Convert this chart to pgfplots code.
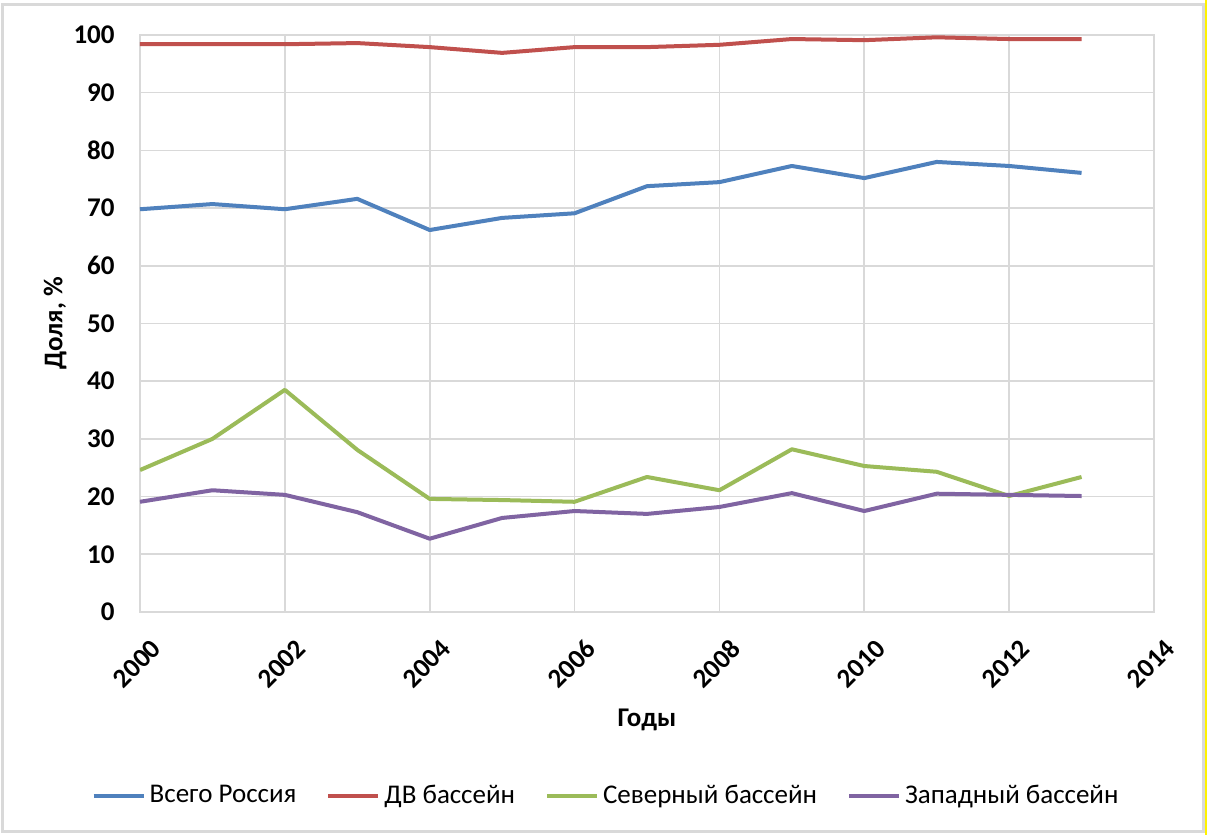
\documentclass[border=0pt]{standalone}
\usepackage{fontspec}
\setmainfont{Carlito}
\usepackage{pgfplots}
\pgfplotsset{compat=1.18}
\definecolor{cblue}{RGB}{79,129,189}
\definecolor{cred}{RGB}{192,80,77}
\definecolor{cgreen}{RGB}{155,187,89}
\definecolor{cpurple}{RGB}{128,100,162}
\definecolor{gridgray}{RGB}{217,217,217}
\begin{document}
\fontsize{13.5}{16}\selectfont
\begin{tikzpicture}
\useasboundingbox (-70pt,-111.5pt) rectangle (533.5pt,306pt);
\fill[white] (-70pt,-111.5pt) rectangle (533.5pt,306pt);
\draw[gridgray, line width=1.5pt] (-68.5pt,-110pt) rectangle (531.5pt,303.5pt);
\draw[yellow, line width=1pt] (533pt,-111.5pt) -- (533pt,306pt);
\begin{axis}[
    scale only axis,
    width=507pt, height=288.5pt,
    xmin=2000, xmax=2014,
    ymin=0, ymax=100,
    xtick={2000,2002,...,2014},
    ytick={0,10,...,100},
    grid=major,
    grid style={gridgray, line width=0.8pt},
    axis line style={gridgray, line width=1pt},
    major tick length=0pt,
    tick style={draw=none},
    /pgf/number format/assume math mode=true,
    xticklabel={\pgfmathprintnumber[1000 sep={}]{\tick}},
    ticklabel style={font=\bfseries},
    xticklabel style={rotate=45, anchor=north east, xshift=-1pt, yshift=-8pt},
    yticklabel style={anchor=east, xshift=-8pt},
    xlabel={\bfseries Годы},
    ylabel={\bfseries Доля, \%},
    xlabel style={at={(axis description cs:0.5,-0.187)}, anchor=center},
    ylabel style={at={(axis description cs:-0.0838,0.5)}, anchor=center, rotate=0},
    legend columns=4,
    legend style={at={(axis description cs:0.4606,-0.319)}, anchor=center,
        draw=none, fill=none, font=\fontsize{13.5}{16}\selectfont,
        /tikz/every even column/.append style={column sep=13pt}},
    legend image code/.code={\draw[#1, line width=2pt] (0pt,0pt) -- (25pt,0pt);},
    every axis plot/.append style={line width=2pt, line join=round},
]
\addplot[cblue] coordinates {
    (2000,69.8) (2001,70.7) (2002,69.8) (2003,71.6) (2004,66.2) (2005,68.3) (2006,69.1)
    (2007,73.8) (2008,74.5) (2009,77.3) (2010,75.2) (2011,78.0) (2012,77.3) (2013,76.1)
};
\addlegendentry{Всего Россия}
\addplot[cred] coordinates {
    (2000,98.4) (2001,98.4) (2002,98.4) (2003,98.6) (2004,97.9) (2005,96.9) (2006,97.9)
    (2007,97.9) (2008,98.3) (2009,99.3) (2010,99.1) (2011,99.6) (2012,99.3) (2013,99.3)
};
\addlegendentry{ДВ бассейн}
\addplot[cgreen] coordinates {
    (2000,24.6) (2001,30.0) (2002,38.5) (2003,28.1) (2004,19.6) (2005,19.4) (2006,19.1)
    (2007,23.4) (2008,21.1) (2009,28.2) (2010,25.3) (2011,24.3) (2012,20.1) (2013,23.4)
};
\addlegendentry{Северный бассейн}
\addplot[cpurple] coordinates {
    (2000,19.1) (2001,21.1) (2002,20.3) (2003,17.3) (2004,12.7) (2005,16.3) (2006,17.5)
    (2007,17.0) (2008,18.2) (2009,20.6) (2010,17.5) (2011,20.5) (2012,20.3) (2013,20.1)
};
\addlegendentry{Западный бассейн}
\end{axis}
\end{tikzpicture}
\end{document}
